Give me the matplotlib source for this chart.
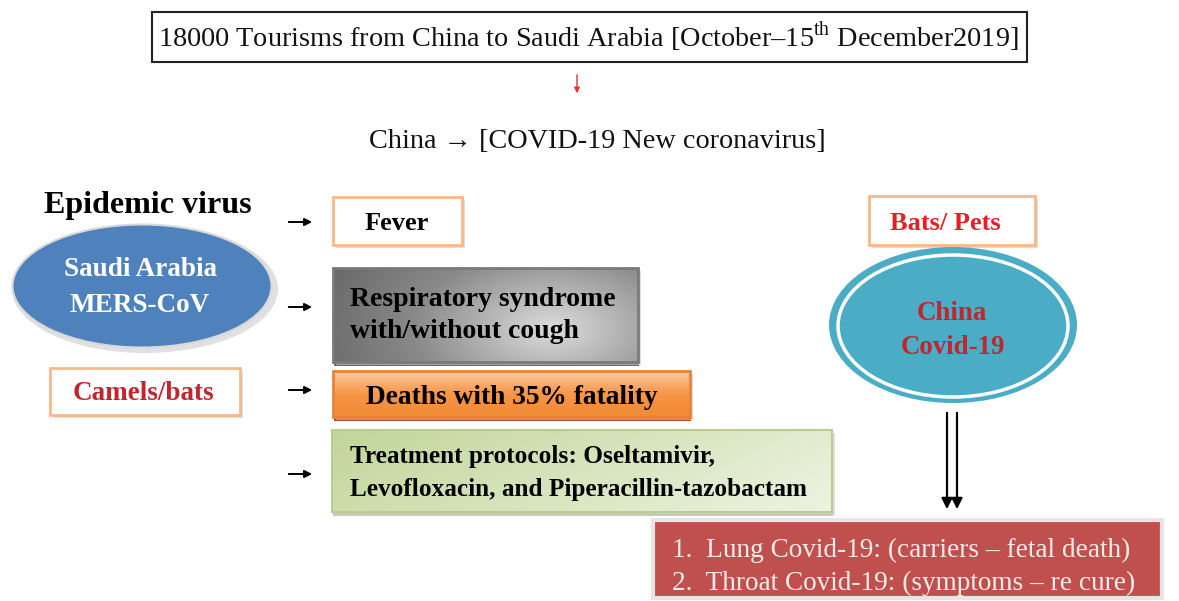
import numpy as np
import matplotlib.pyplot as plt
from matplotlib.patches import Rectangle, Ellipse, FancyArrowPatch
from matplotlib.colors import LinearSegmentedColormap

plt.rcParams['font.family'] = ['Liberation Serif', 'DejaVu Serif']
plt.rcParams['mathtext.fontset'] = 'custom'
plt.rcParams['mathtext.rm'] = 'Liberation Serif'

# texts of the diagram
top_text = r"18000 Tourisms from China to Saudi Arabia [October–15$^{\mathrm{th}}$ December2019]"
mid_text = "China → [COVID-19 New coronavirus]"
left_title = "Epidemic virus"
left_oval = ["Saudi Arabia", "MERS-CoV"]
left_host = "Camels/bats"
symptoms = [["Fever"],
            ["Respiratory syndrome", "with/without cough"],
            ["Deaths with 35% fatality"],
            ["Treatment protocols: Oseltamivir,", "Levofloxacin, and Piperacillin-tazobactam"]]
right_host = "Bats/ Pets"
right_oval = ["China", "Covid-19"]
outcomes = ["1.  Lung Covid-19: (carriers – fetal death)",
            "2.  Throat Covid-19: (symptoms – re cure)"]

W, H = 1179, 601
fig = plt.figure(figsize=(W / 100, H / 100), dpi=100)
ax = fig.add_axes([0, 0, 1, 1])
ax.set_xlim(0, W)
ax.set_ylim(H, 0)
ax.axis('off')


def box(x0, y0, x1, y1, fc='white', ec='#f7b98a', lw=2.0, shadow=True, z=2):
    if shadow:
        ax.add_patch(Rectangle((x0 + 3, y0 + 3), x1 - x0, y1 - y0, fc='#c8c8c8',
                               ec='none', alpha=0.6, zorder=z - 1))
    r = Rectangle((x0, y0), x1 - x0, y1 - y0, fc=fc, ec=ec, lw=lw, zorder=z)
    ax.add_patch(r)
    return r


def gradient_box(x0, y0, x1, y1, img, cmap, ec, lw=2.0, under=None):
    if under is not None:
        ax.add_patch(Rectangle((x0 + 1, y0 + 4), x1 - x0, y1 - y0, fc=under,
                               ec='none', zorder=1.5))
    r = box(x0, y0, x1, y1, fc='none', ec=ec, lw=lw, z=3)
    im = ax.imshow(img, cmap=cmap, extent=(x0, x1, y1, y0), aspect='auto',
                   interpolation='bilinear', zorder=2, vmin=0, vmax=1)
    im.set_clip_path(r)
    return r


def arrow(x0, y0, x1, y1, color='black', lw=1.5, ms=12):
    ax.add_patch(FancyArrowPatch((x0, y0), (x1, y1), arrowstyle='-|>',
                                 mutation_scale=ms, color=color, lw=lw, zorder=5))


def label(x, y, s, size, ha='center', weight='bold', color='black'):
    ax.text(x, y, s, fontsize=size, ha=ha, va='center_baseline', fontweight=weight,
            color=color, zorder=6)


# top box
box(152, 12, 1027, 62, ec='#222222', lw=1.5, shadow=False)
label(588, 33, top_text, 20.3, weight='normal', color='#111111')
arrow(577, 72, 577, 96, color='#e8302a', lw=1.0, ms=8)
label(597, 139, mid_text, 20.3, weight='normal', color='#111111')

# left oval
label(148, 202, left_title, 23)
ax.add_patch(Ellipse((145, 289), 266, 128, fc='#e0e0e0', ec='none', zorder=1))
ax.add_patch(Ellipse((142, 286), 259, 123, fc='#4f81bd', ec='#d9d9d9', lw=1.5, zorder=2))
label(140, 267, left_oval[0], 19.5, color='white')
label(140, 302, left_oval[1], 19.5, color='white')
box(50, 368, 240, 415)
label(143, 391, left_host, 19.5, color='#c0262d')

# symptom column
ys = [222, 307, 390, 474]
for y in ys:
    arrow(286, y, 315, y, lw=1.4, ms=11)

box(333, 197, 462, 245)
label(397, 221, symptoms[0][0], 19)

gx = np.linspace(0, 1, 200)
gy = np.linspace(0, 1, 60)
GX, GY = np.meshgrid(gx, gy)
gray_img = 1 - np.clip(np.hypot((GX - 0.72) * 1.1, (GY - 0.65) * 0.6), 0, 1)
gray_cmap = LinearSegmentedColormap.from_list('g', ['#5e5e5e', '#8a8a8a', '#dcdcdc'])
gradient_box(333, 268, 638, 362, gray_img, gray_cmap, ec='#7a7a7a', lw=2.0,
             under='#6a6a6a')
label(350, 296, symptoms[1][0], 20, ha='left')
label(350, 329, symptoms[1][1], 20, ha='left')

orange_img = np.tile(np.linspace(0, 1, 60)[:, None], (1, 10))
orange_cmap = LinearSegmentedColormap.from_list('o', ['#fbc9a0', '#f79646', '#f08a35'])
gradient_box(333, 371, 690, 417, orange_img, orange_cmap, ec='#e8843a', lw=2.0,
             under='#a4502a')
label(512, 395, symptoms[2][0], 19.7)

green_img = 1 - np.clip(0.75 * GX + 0.25 * GY, 0, 1)
green_cmap = LinearSegmentedColormap.from_list('gr', ['#eef3e2', '#d7e4bd', '#c2d69a'])
gradient_box(332, 430, 832, 512, green_img, green_cmap, ec='#b9cc94', lw=1.5,
             under='#c4cbb8')
label(350, 454, symptoms[3][0], 18.2, ha='left')
label(350, 487, symptoms[3][1], 18.2, ha='left')

# right oval
box(869, 196, 1035, 245)
label(945, 221, right_host, 19, color='#e32026')
ax.add_patch(Ellipse((953, 325), 248, 156, fc='#4bacc6', ec='none', zorder=2))
ax.add_patch(Ellipse((953, 326), 230, 142, fc='none', ec='white', lw=2.5, zorder=3))
label(952, 310, right_oval[0], 19.4, color='#c0262d')
label(953, 344, right_oval[1], 19.4, color='#c0262d')

for x in (947, 957):
    arrow(x, 410, x, 512, lw=1.6, ms=16)

box(653, 520, 1162, 598, fc='#c0504d', ec='#e6e6e6', lw=3, shadow=False)
label(672, 547, outcomes[0], 19.6, ha='left', weight='normal', color='#f6ecea')
label(672, 580, outcomes[1], 19.6, ha='left', weight='normal', color='#f6ecea')

fig.savefig('out.png', dpi=100)
